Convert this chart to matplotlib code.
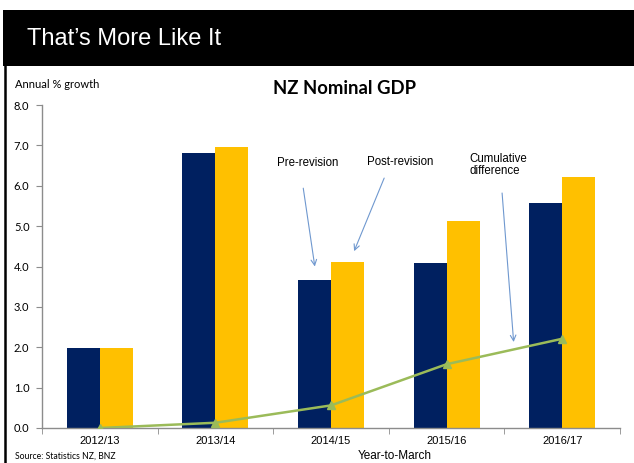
import matplotlib
matplotlib.use("Agg")
import matplotlib.pyplot as plt
import numpy as np
from matplotlib.patches import Rectangle
from matplotlib.lines import Line2D

# data
years = ["2012/13", "2013/14", "2014/15", "2015/16", "2016/17"]
pre_revision = [1.98, 6.82, 3.66, 4.08, 5.57]
post_revision = [1.98, 6.97, 4.11, 5.13, 6.22]
cumulative_diff = [0.0, 0.13, 0.56, 1.58, 2.21]
y_ticks = [0, 1, 2, 3, 4, 5, 6, 7, 8]

navy = "#002060"
gold = "#FFC000"
green = "#9BBB59"
arrow_col = "#6F98CF"
spine_col = "#8C8C8C"

fig = plt.figure(figsize=(6.34, 4.63), dpi=100)
W, H = 634, 463

# banner
fig.patches.append(Rectangle((3 / W, 1 - 66 / H), 631 / W, 56 / H, transform=fig.transFigure,
                             facecolor="black", edgecolor="none", zorder=0))
fig.text(27 / W, 1 - 39 / H, "That\u2019s More Like It", color="white", fontsize=17,
         family="Liberation Sans", va="center", ha="left")
# left frame line
fig.lines.append(Line2D([4.5 / W, 4.5 / W], [0, 1 - 66 / H], transform=fig.transFigure,
                        color="black", lw=1.8))

ax = fig.add_axes([42 / W, 1 - 428 / H, 578 / W, 323 / H])
x = np.arange(len(years))
w = 0.285
ax.bar(x - w / 2, pre_revision, width=w, color=navy, zorder=2)
ax.bar(x + w / 2, post_revision, width=w, color=gold, zorder=2)
ax.plot(x, cumulative_diff, color=green, lw=1.8, marker="^", markersize=5.5, zorder=3)

ax.set_xlim(-0.5, len(years) - 0.5)
ax.set_ylim(0, 8)
ax.set_yticks(y_ticks)
ax.set_yticklabels([f"{v:.1f}" for v in y_ticks], family="Lato", fontsize=8)
ax.set_xticks(x)
ax.set_xticklabels(years, family="Liberation Sans", fontsize=8)
ax.set_xticks(np.arange(-0.5, len(years)), minor=True)
ax.tick_params(axis="x", which="major", length=0, pad=6)
ax.tick_params(axis="x", which="minor", length=4, color=spine_col, direction="out")
ax.tick_params(axis="y", length=4, color=spine_col, direction="out", pad=5)
for s in ["top", "right"]:
    ax.spines[s].set_visible(False)
for s in ["left", "bottom"]:
    ax.spines[s].set_color(spine_col)
    ax.spines[s].set_linewidth(1)

# annotations
ap = dict(arrowstyle="->", color=arrow_col, lw=0.8, shrinkA=0, shrinkB=0)
ax.annotate("", xy=(1.86, 4.0), xytext=(1.76, 5.94), arrowprops=ap)
ax.annotate("", xy=(2.20, 4.38), xytext=(2.46, 6.19), arrowprops=ap)
ax.annotate("", xy=(3.58, 2.13), xytext=(3.48, 5.82), arrowprops=ap)
ax.text(1.80, 6.56, "Pre-revision", ha="center", va="center", fontsize=8.3, family="Liberation Sans")
ax.text(2.60, 6.58, "Post-revision", ha="center", va="center", fontsize=8.3, family="Liberation Sans")
ax.text(3.20, 6.52, "Cumulative\ndifference", ha="left", va="center", fontsize=8.3,
        family="Liberation Sans", linespacing=1.0)

fig.text(345 / W, 1 - 88 / H, "NZ Nominal GDP", ha="center", va="center", fontsize=13.3,
         fontweight="bold", family="Lato")
fig.text(15 / W, 1 - 85 / H, "Annual % growth", ha="left", va="center", fontsize=8, family="Lato")
fig.text(15 / W, 1 - 456 / H, "Source: Statistics NZ, BNZ", ha="left", va="center", fontsize=6.2,
         family="Lato")
fig.text(395 / W, 1 - 456 / H, "Year-to-March", ha="center", va="center", fontsize=8.5,
         family="Liberation Sans")

fig.savefig("out.png", dpi=100)
